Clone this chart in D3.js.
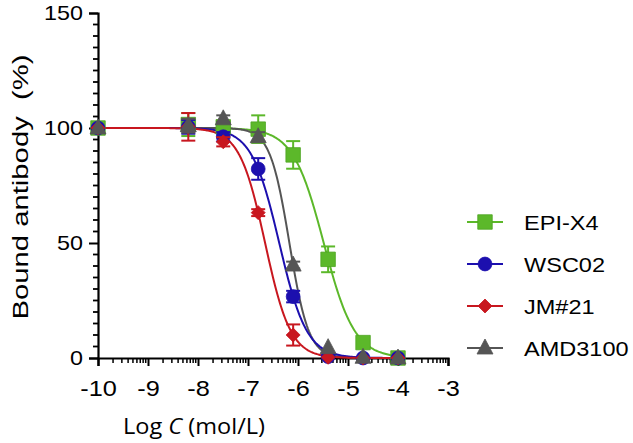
<!DOCTYPE html>
<html><head><meta charset="utf-8">
<script src="https://cdn.jsdelivr.net/npm/d3@7"></script>
<style>body{margin:0;background:#fff}svg{display:block}</style>
</head><body>
<svg id="c" width="633" height="443"></svg>
<script>
// Data
const logConc = [-10, -8.194, -7.495, -6.796, -6.097, -5.398, -4.699, -4.0];
const seriesNames = ["EPI-X4", "WSC02", "JM#21", "AMD3100"];
const epiX4  = [100, 101.5, 100.5, 99.5, 88.3, 42.9, 6.7, 0];
const epiX4Err = [0, 5, 2, 6, 6, 5.6, 1, 0.5];
const wsc02  = [100, 100.5, 96.2, 82.2, 26.7, 0.6, 0, 0];
const wsc02Err = [0, 3, 2, 4.7, 2.5, 0.5, 0.5, 0];
const jm21   = [100, 100.5, 94, 63.2, 10, 0.3, 0, 0];
const jm21Err = [0, 6, 2, 1.5, 4.6, 0.5, 0, 0];
const amd3100 = [100, 101, 104, 96.2, 40.4, 4.5, 0.3, 0];
const amd3100Err = [0, 3, 1.5, 2, 1.5, 1, 0.5, 0];
// fitted four-parameter logistic (top=100, bottom=0) parameters
const logIC50 = [-5.485, -6.375, -6.658, -6.172];
const hillSlope = [1.41, 1.578, 1.70, 2.25];
const xTicks = [-10, -9, -8, -7, -6, -5, -4, -3];
const yTicks = [0, 50, 100, 150];
const colors = ["#5cb82a", "#1c0fae", "#c8171f", "#555555"];
const strokeColors = ["#4ea522", "#1c0fae", "#c8171f", "#555555"];
const shapes = ["square", "circle", "diamond", "triangle"];

const values = [epiX4, wsc02, jm21, amd3100];
const errs = [epiX4Err, wsc02Err, jm21Err, amd3100Err];

const ARIAL = "Liberation Sans, Arial, sans-serif";
const svg = d3.select("#c");
const x = d3.scaleLinear().domain([-10, -3]).range([98, 448]);
const y = d3.scaleLinear().domain([0, 150]).range([358, 13]);

function widen(sel, f) {
  sel.each(function() {
    const w = this.getComputedTextLength();
    d3.select(this).attr("textLength", w * f).attr("lengthAdjust", "spacingAndGlyphs");
  });
}

// y axis
const yMinor = d3.range(0, 151, 5).filter(v => v % 50 !== 0);
const yAxis = d3.axisLeft(y).tickValues(yTicks).tickSize(9).tickPadding(6);
const gy = svg.append("g").attr("transform", `translate(${x(-10)},0)`).call(yAxis);
gy.selectAll("line.mn").data(yMinor).enter().append("line").attr("class", "mn")
  .attr("x1", -5).attr("x2", 0).attr("y1", d => y(d)).attr("y2", d => y(d))
  .attr("stroke", "#000").attr("stroke-width", 1.8);
gy.select(".domain").attr("stroke-width", 2.2);
gy.selectAll(".tick line").attr("stroke-width", 2);
gy.selectAll(".tick text").attr("font-family", ARIAL).attr("font-size", 21).attr("fill", "#000");
widen(gy.selectAll(".tick text"), 1.11);

// x axis
const xMinor = [];
for (let d = -10; d < -3; d++) for (let k = 2; k <= 9; k++) xMinor.push(d + Math.log10(k));
const xAxis = d3.axisBottom(x).tickValues(xTicks).tickSize(8).tickPadding(14).tickFormat(d3.format("d"));
const gx = svg.append("g").attr("transform", `translate(0,${y(0)})`).call(xAxis);
gx.selectAll("line.mn").data(xMinor).enter().append("line").attr("class", "mn")
  .attr("x1", d => x(d)).attr("x2", d => x(d)).attr("y1", 0).attr("y2", 5)
  .attr("stroke", "#000").attr("stroke-width", 1.5);
gx.select(".domain").attr("stroke-width", 2.2);
gx.selectAll(".tick line").attr("stroke-width", 2);
gx.selectAll(".tick text").attr("font-family", ARIAL).attr("font-size", 22).attr("fill", "#000")
  .text(d => "-" + Math.abs(d));
widen(gx.selectAll(".tick text"), 1.15);

// fitted curves
const curveX = d3.range(-10, -3.9 + 1e-9, 0.02);
const line = d3.line().x(d => x(d[0])).y(d => y(d[1]));
const curveOrder = [0, 3, 1, 2];
curveOrder.forEach(i => {
  const pts = curveX.map(v => [v, 100 / (1 + Math.pow(10, (v - logIC50[i]) * hillSlope[i]))]);
  svg.append("path").attr("d", line(pts)).attr("fill", "none")
    .attr("stroke", colors[i]).attr("stroke-width", 2);
});

function symbolPath(shape) {
  if (shape === "square") return d3.symbol(d3.symbolSquare, 210)();
  if (shape === "circle") return d3.symbol(d3.symbolCircle, 150)();
  if (shape === "diamond") return "M0,-7L7,0L0,7L-7,0Z";
  return "M0,-9L8,6L-8,6Z";
}

// error bars and markers
[0, 1, 2, 3].forEach(i => {
  const g = svg.append("g");
  logConc.forEach((lc, j) => {
    const v = values[i][j], e = errs[i][j];
    if (e > 1) {
      const cx = x(lc);
      g.append("line").attr("x1", cx).attr("x2", cx).attr("y1", y(v + e)).attr("y2", y(v - e))
        .attr("stroke", colors[i]).attr("stroke-width", 2);
      [v + e, v - e].forEach(b => g.append("line").attr("x1", cx - 7).attr("x2", cx + 7)
        .attr("y1", y(b)).attr("y2", y(b)).attr("stroke", colors[i]).attr("stroke-width", 2));
    }
  });
  logConc.forEach((lc, j) => {
    g.append("path").attr("d", symbolPath(shapes[i]))
      .attr("transform", `translate(${x(lc)},${y(values[i][j])})`)
      .attr("fill", colors[i]).attr("stroke", strokeColors[i]).attr("stroke-width", 0.8);
  });
});

// legend
const legY = [222, 264, 306, 348];
seriesNames.forEach((name, i) => {
  const g = svg.append("g").attr("transform", `translate(0,${legY[i]})`);
  g.append("line").attr("x1", 467).attr("x2", 503).attr("y1", 0).attr("y2", 0)
    .attr("stroke", colors[i]).attr("stroke-width", 2);
  g.append("path").attr("d", symbolPath(shapes[i])).attr("transform", "translate(485,0)")
    .attr("fill", colors[i]).attr("stroke", strokeColors[i]).attr("stroke-width", 0.8);
  const t = g.append("text").attr("x", 524).attr("y", 8).text(name)
    .attr("font-family", ARIAL).attr("font-size", 21).attr("fill", "#000");
  widen(t, 1.12);
});

// axis titles
const yt = svg.append("text").attr("transform", "translate(28,187) rotate(-90)").attr("text-anchor", "middle")
  .attr("font-family", ARIAL).attr("font-size", 22).attr("fill", "#000")
  .attr("xml:space", "preserve").text("Bound antibody  (%)");
yt.attr("textLength", 265).attr("lengthAdjust", "spacingAndGlyphs");
const xt = svg.append("text").attr("x", 194).attr("y", 434).attr("text-anchor", "middle")
  .attr("font-family", "Open Sans, Noto Sans, sans-serif").attr("font-size", 21).attr("fill", "#000");
xt.append("tspan").text("Log ");
xt.append("tspan").attr("font-style", "italic").text("C");
xt.append("tspan").text(" (mol/L)");
xt.attr("textLength", 142).attr("lengthAdjust", "spacingAndGlyphs");
</script>
</body></html>
